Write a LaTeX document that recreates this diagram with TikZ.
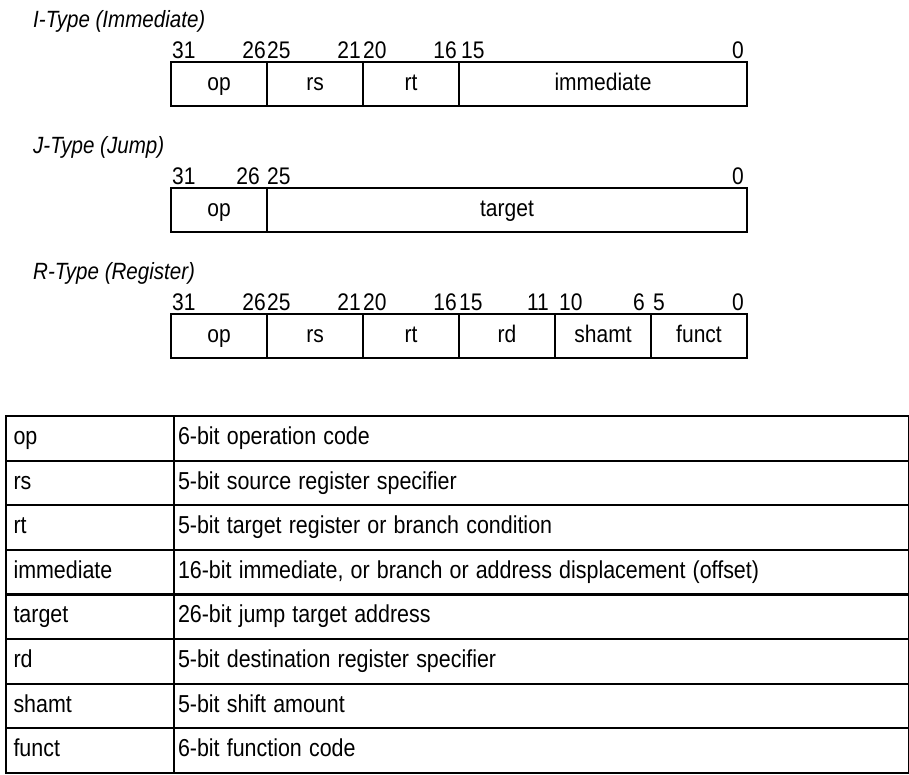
\documentclass[tikz,border=0pt]{standalone}
\usepackage{fontspec}
\usepackage{graphicx}
\setmainfont{Liberation Sans}
\newcommand{\nx}[1]{\scalebox{0.875}[1]{#1}}
\begin{document}
\begin{tikzpicture}[x=1pt,y=-1pt,
  every node/.style={font=\fontsize{24}{28}\selectfont},
  field/.style={draw, line width=2pt, minimum height=44pt, inner sep=0pt, text height=17pt, text depth=5pt, anchor=north west},
  bitl/.style={anchor=base west, inner sep=0pt},
  bitr/.style={anchor=base east, inner sep=0pt},
  title/.style={anchor=base west, inner sep=0pt, font=\fontsize{23.5}{27}\selectfont\itshape},
  tname/.style={draw, line width=2pt, minimum height=44.6pt, inner xsep=8pt, inner ysep=0pt, text height=17.5pt, text depth=5.2pt, text width=152.5pt, align=left, anchor=north west, font=\fontsize{24.5}{28}\selectfont},
  tdesc/.style={draw, line width=2pt, minimum height=44.6pt, inner xsep=4pt, inner ysep=0pt, text height=17.5pt, text depth=5.2pt, text width=726.5pt, align=left, anchor=north west, font=\fontsize{24.5}{28}\selectfont}]
\useasboundingbox (0,0) rectangle (909,774);

% I-Type
\node[title] (ititle) at (33,27) {\nx{I-Type (Immediate)}};
\node[field, minimum width=96pt] (iop) at (170,61) {\nx{op}};
\node[field, minimum width=96pt] (irs) at (266,61) {\nx{rs}};
\node[field, minimum width=96pt] (irt) at (362,61) {\nx{rt}};
\node[field, minimum width=288pt] (iimm) at (458,61) {\nx{immediate}};
\node[bitl] (ib31) at (172,58) {\nx{31}};
\node[bitr] (ib26) at (266,58) {\nx{26}};
\node[bitl] (ib25) at (267,58) {\nx{25}};
\node[bitr] (ib21) at (361,58) {\nx{21}};
\node[bitl] (ib20) at (363,58) {\nx{20}};
\node[bitr] (ib16) at (457,58) {\nx{16}};
\node[bitl] (ib15) at (461,58) {\nx{15}};
\node[bitr] (ib0) at (744,58) {\nx{0}};

% J-Type
\node[title] (jtitle) at (33,153) {\nx{J-Type (Jump)}};
\node[field, minimum width=96pt] (jop) at (170,187) {\nx{op}};
\node[field, minimum width=480pt] (jtarget) at (266,187) {\nx{target}};
\node[bitl] (jb31) at (172,184) {\nx{31}};
\node[bitr] (jb26) at (260,184) {\nx{26}};
\node[bitl] (jb25) at (267,184) {\nx{25}};
\node[bitr] (jb0) at (744,184) {\nx{0}};

% R-Type
\node[title] (rtitle) at (33,279) {\nx{R-Type (Register)}};
\node[field, minimum width=96pt] (rop) at (170,313) {\nx{op}};
\node[field, minimum width=96pt] (rrs) at (266,313) {\nx{rs}};
\node[field, minimum width=96pt] (rrt) at (362,313) {\nx{rt}};
\node[field, minimum width=96pt] (rrd) at (458,313) {\nx{rd}};
\node[field, minimum width=96pt] (rsh) at (554,313) {\nx{shamt}};
\node[field, minimum width=96pt] (rfn) at (650,313) {\nx{funct}};
\node[bitl] (rb31) at (172,310) {\nx{31}};
\node[bitr] (rb26) at (266,310) {\nx{26}};
\node[bitl] (rb25) at (267,310) {\nx{25}};
\node[bitr] (rb21) at (361,310) {\nx{21}};
\node[bitl] (rb20) at (363,310) {\nx{20}};
\node[bitr] (rb16) at (457,310) {\nx{16}};
\node[bitl] (rb15) at (459,310) {\nx{15}};
\node[bitr] (rb11) at (549,310) {\nx{11}};
\node[bitl] (rb10) at (559,310) {\nx{10}};
\node[bitr] (rb6) at (645,310) {\nx{6}};
\node[bitl] (rb5) at (653,310) {\nx{5}};
\node[bitr] (rb0) at (744,310) {\nx{0}};

% Table
\node[tname] (n1) at (4.5,415) {\nx{op}};
\node[tdesc] (d1) at (173,415) {\nx{6-bit operation code}};
\node[tname] (n2) at (4.5,459.625) {\nx{rs}};
\node[tdesc] (d2) at (173,459.625) {\nx{5-bit source register specifier}};
\node[tname] (n3) at (4.5,504.25) {\nx{rt}};
\node[tdesc] (d3) at (173,504.25) {\nx{5-bit target register or branch condition}};
\node[tname] (n4) at (4.5,548.875) {\nx{immediate}};
\node[tdesc] (d4) at (173,548.875) {\nx{16-bit immediate, or branch or address displacement (offset)}};
\node[tname] (n5) at (4.5,593.5) {\nx{target}};
\node[tdesc] (d5) at (173,593.5) {\nx{26-bit jump target address}};
\node[tname] (n6) at (4.5,638.125) {\nx{rd}};
\node[tdesc] (d6) at (173,638.125) {\nx{5-bit destination register specifier}};
\node[tname] (n7) at (4.5,682.75) {\nx{shamt}};
\node[tdesc] (d7) at (173,682.75) {\nx{5-bit shift amount}};
\node[tname] (n8) at (4.5,727.375) {\nx{funct}};
\node[tdesc] (d8) at (173,727.375) {\nx{6-bit function code}};
\end{tikzpicture}
\end{document}
